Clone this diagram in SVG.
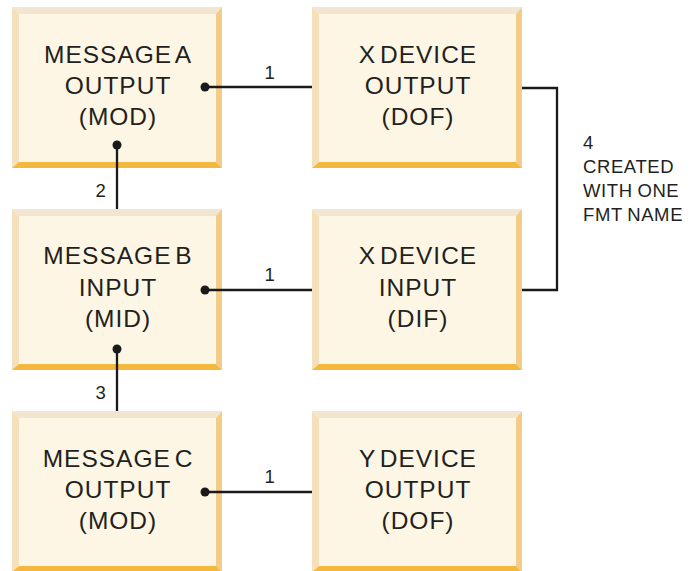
<svg xmlns="http://www.w3.org/2000/svg" xmlns:xlink="http://www.w3.org/1999/xlink" width="691" height="571" viewBox="0 0 691 571">
<style>
.face{fill:#FDF6E4}
.bt{fill:#F3E6D0}
.bl{fill:#F5E0BC}
.br{fill:#F3CC88}
.bb{fill:#F5B83E}
.bx{font-family:"Liberation Sans",Arial,sans-serif;font-size:24.5px;letter-spacing:1px;word-spacing:-4px;fill:#231F20;text-anchor:middle}
.lb{font-family:"Liberation Sans",Arial,sans-serif;font-size:18.5px;letter-spacing:0.6px;word-spacing:-1px;fill:#231F20}
.ln{stroke:#1A1A1A;stroke-width:2.3;fill:none}
.dot{fill:#1A1A1A}
</style>
<defs>
<g id="bevel">
<rect class="face" x="7" y="7" width="197" height="148"/>
<polygon class="bt" points="0,0 210,0 204,7 7,7"/>
<polygon class="bl" points="0,0 7,7 7,155 0,161"/>
<polygon class="br" points="210,0 210,161 204,155 204,7"/>
<polygon class="bb" points="0,161 7,155 204,155 210,161"/>
</g>
</defs>
<g id="msgA">
<use xlink:href="#bevel" x="12" y="7"/>
<text class="bx" x="118" y="63">MESSAGE A</text>
<text class="bx" x="118" y="94">OUTPUT</text>
<text class="bx" x="118" y="125">(MOD)</text>
</g>
<g id="msgB">
<use xlink:href="#bevel" x="12" y="209"/>
<text class="bx" x="118" y="264">MESSAGE B</text>
<text class="bx" x="118" y="296">INPUT</text>
<text class="bx" x="118" y="327">(MID)</text>
</g>
<g id="msgC">
<use xlink:href="#bevel" x="12" y="411"/>
<text class="bx" x="118" y="467">MESSAGE C</text>
<text class="bx" x="118" y="498">OUTPUT</text>
<text class="bx" x="118" y="529">(MOD)</text>
</g>
<g id="xdof">
<use xlink:href="#bevel" x="312" y="7"/>
<text class="bx" x="418" y="63">X DEVICE</text>
<text class="bx" x="418" y="94">OUTPUT</text>
<text class="bx" x="418" y="125">(DOF)</text>
</g>
<g id="xdif">
<use xlink:href="#bevel" x="312" y="209"/>
<text class="bx" x="418" y="264">X DEVICE</text>
<text class="bx" x="418" y="296">INPUT</text>
<text class="bx" x="418" y="327">(DIF)</text>
</g>
<g id="ydof">
<use xlink:href="#bevel" x="312" y="411"/>
<text class="bx" x="418" y="467">Y DEVICE</text>
<text class="bx" x="418" y="498">OUTPUT</text>
<text class="bx" x="418" y="529">(DOF)</text>
</g>
<g id="connectors">
<line class="ln" x1="205" y1="87" x2="312" y2="87"/>
<circle class="dot" cx="205" cy="87" r="4.5"/>
<text class="lb" x="270" y="79" text-anchor="middle">1</text>
<line class="ln" x1="205" y1="290" x2="312" y2="290"/>
<circle class="dot" cx="205" cy="290" r="4.5"/>
<text class="lb" x="270" y="281" text-anchor="middle">1</text>
<line class="ln" x1="205" y1="492" x2="312" y2="492"/>
<circle class="dot" cx="205" cy="492" r="4.5"/>
<text class="lb" x="270" y="483" text-anchor="middle">1</text>
<line class="ln" x1="117" y1="145" x2="117" y2="209"/>
<circle class="dot" cx="117" cy="145" r="4.5"/>
<text class="lb" x="101" y="197" text-anchor="middle">2</text>
<line class="ln" x1="117" y1="349" x2="117" y2="411"/>
<circle class="dot" cx="117" cy="349" r="4.5"/>
<text class="lb" x="101" y="399" text-anchor="middle">3</text>
<path class="ln" d="M522,88 H557 V290 H522"/>
<text class="lb" x="583" y="149">4</text>
<text class="lb" x="583" y="173">CREATED</text>
<text class="lb" x="583" y="197">WITH ONE</text>
<text class="lb" x="583" y="221">FMT NAME</text>
</g>
</svg>
